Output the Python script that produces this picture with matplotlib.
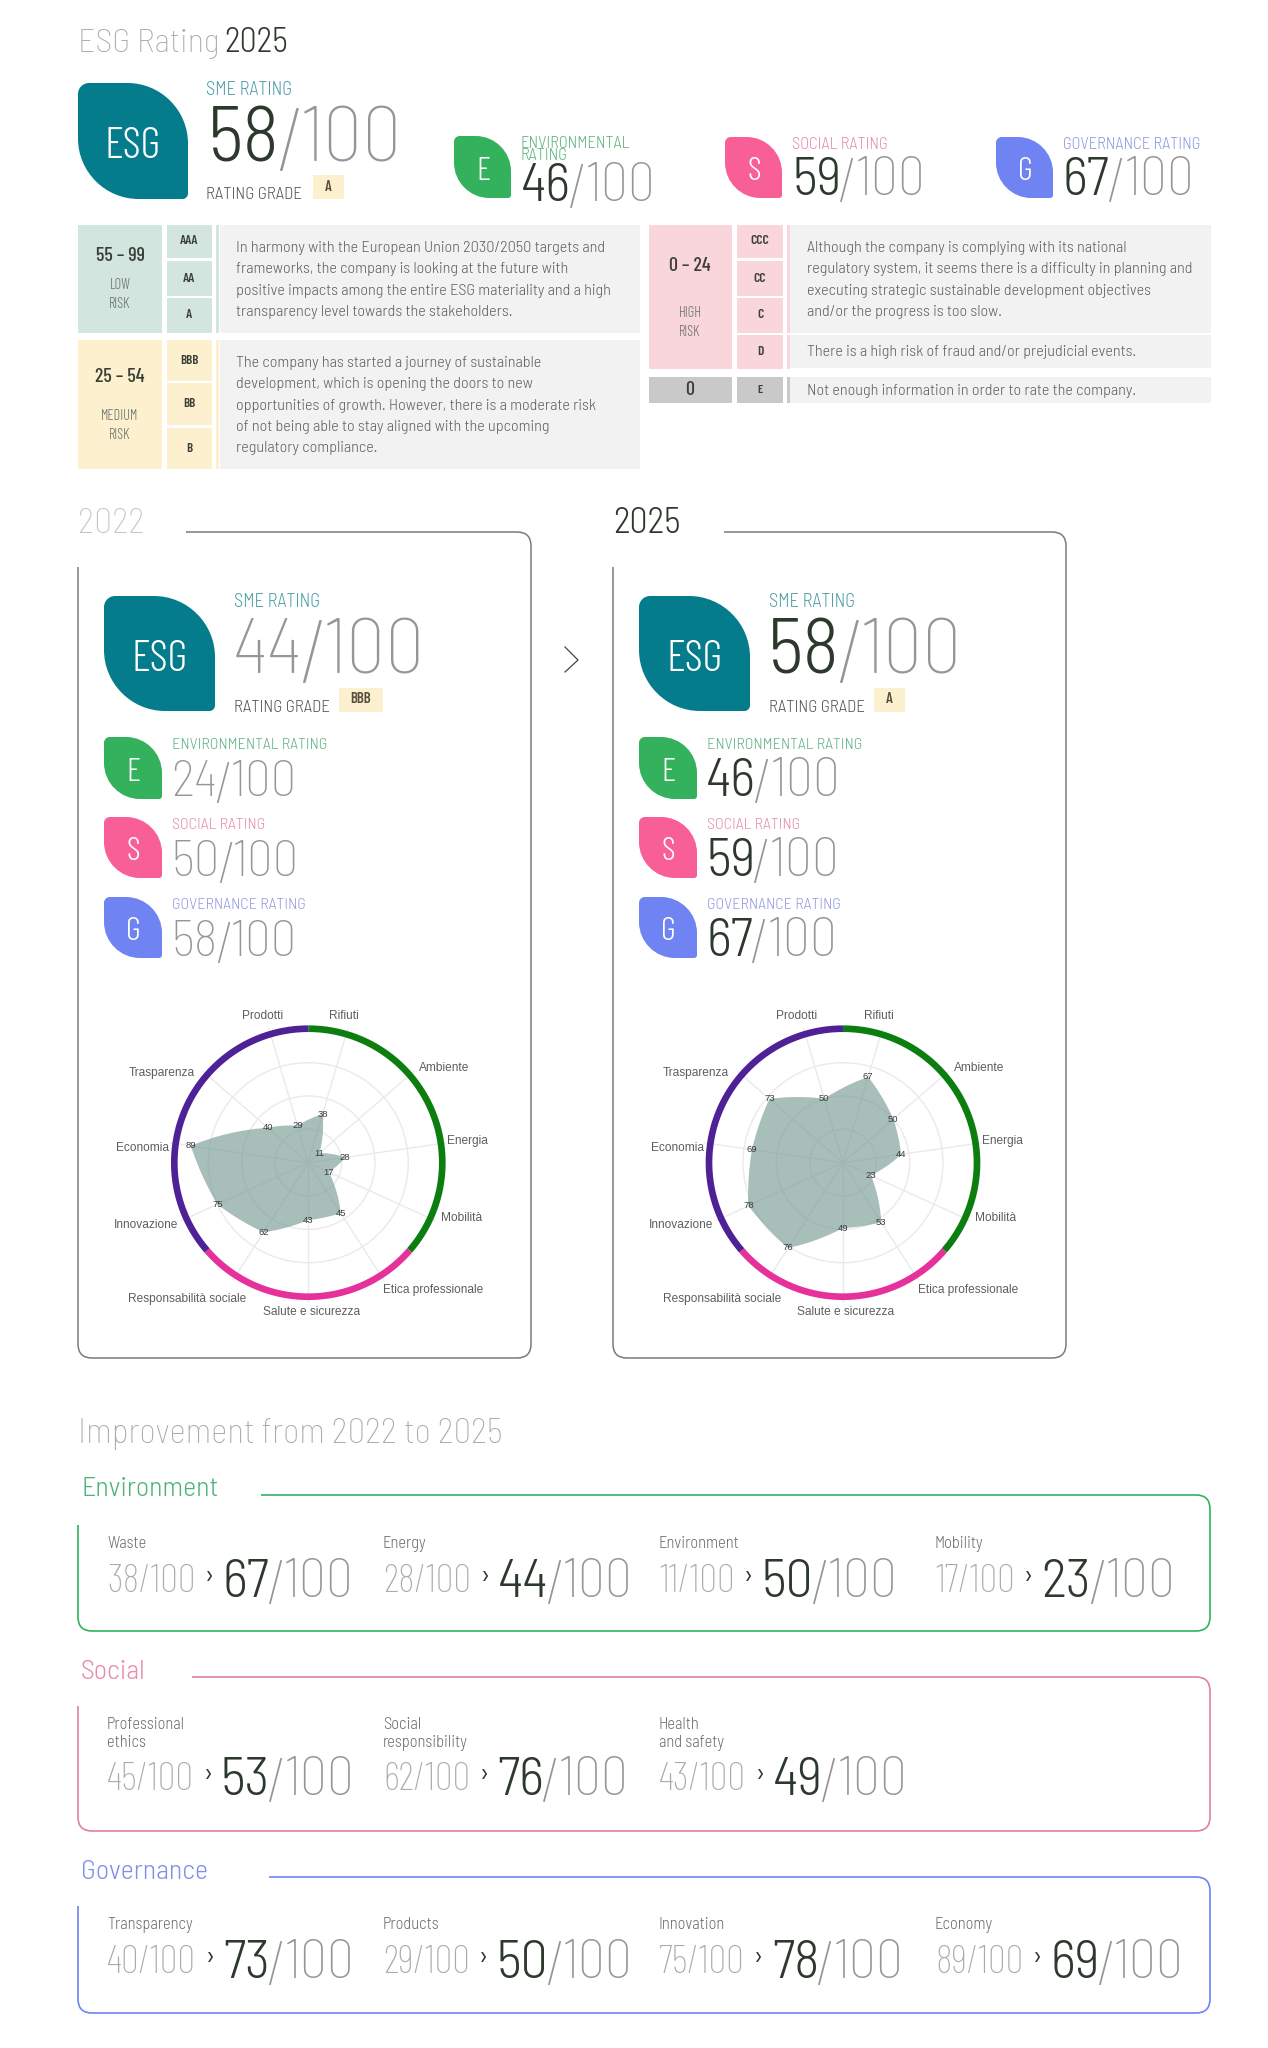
import numpy as np
import matplotlib
matplotlib.use("Agg")
import matplotlib.pyplot as plt
from matplotlib.path import Path
from matplotlib.patches import PathPatch, Rectangle

W, H = 1268, 2048

# data
AXES_IT = ["Rifiuti", "Ambiente", "Energia", "Mobilità", "Etica professionale", "Salute e sicurezza",
           "Responsabilità sociale", "Innovazione", "Economia", "Trasparenza", "Prodotti"]
RADAR_2022 = [38, 11, 28, 17, 45, 43, 62, 75, 89, 40, 29]
RADAR_2025 = [67, 50, 44, 23, 53, 49, 76, 78, 69, 73, 50]
RING_COUNTS = [4, 3, 4]
RING_COLORS = ["#0b7e0f", "#e6319b", "#4f2196"]

SCORES_2022 = [44, 24, 50, 58]
SCORES_2025 = [58, 46, 59, 67]
GRADE_2022 = "BBB"
GRADE_2025 = "A"

ENV_NAMES = ["Waste", "Energy", "Environment", "Mobility"]
ENV_BEFORE = [38, 28, 11, 17]
ENV_AFTER = [67, 44, 50, 23]
SOC_NAMES = ["Professional\nethics", "Social\nresponsibility", "Health\nand safety"]
SOC_BEFORE = [45, 62, 43]
SOC_AFTER = [53, 76, 49]
GOV_NAMES = ["Transparency", "Products", "Innovation", "Economy"]
GOV_BEFORE = [40, 29, 75, 89]
GOV_AFTER = [73, 50, 78, 69]

TEXT_LOW = ["In harmony with the European Union 2030/2050 targets and",
            "frameworks, the company is looking at the future with",
            "positive impacts among the entire ESG materiality and a high",
            "transparency level towards the stakeholders."]
TEXT_MED = ["The company has started a journey of sustainable",
            "development, which is opening the doors to new",
            "opportunities of growth. However, there is a moderate risk",
            "of not being able to stay aligned with the upcoming",
            "regulatory compliance."]
TEXT_HIGH = ["Although the company is complying with its national",
             "regulatory system, it seems there is a difficulty in planning and",
             "executing strategic sustainable development objectives",
             "and/or the progress is too slow."]
TEXT_D = "There is a high risk of fraud and/or prejudicial events."
TEXT_E = "Not enough information in order to rate the company."

# layout of the radar labels around the centre, px
LABEL_OFFSETS = [(36, -147), (136, -95), (159, -22), (153, 55), (125, 127), (3, 149),
                 (-121, 136), (-162, 62), (-166, -15), (-147, -90), (-46, -147)]

COND = ["Barlow Condensed", "Lato"]
SEMI = ["Barlow Semi Condensed", "Lato"]
ARIAL = ["Liberation Sans", "DejaVu Sans"]

TEAL, GREEN, PINK, BLUE = "#057c8b", "#34b15d", "#f95f97", "#6f84f2"
TEAL_T, GREEN_T, PINK_T, BLUE_T = "#4c9ea8", "#5fb380", "#e58db0", "#8f9be0"
DARK = "#2d392d"
THIN = "#969696"
SOFT = "#aaaaaa"
BODY = "#5c625c"

fig = plt.figure(figsize=(W / 100, H / 100), dpi=100)
ax = fig.add_axes([0, 0, 1, 1])
ax.set_xlim(0, W)
ax.set_ylim(H, 0)
ax.axis("off")
rend = fig.canvas.get_renderer()


def txt(x, y, s, px, color, weight=300, family=COND, ha="left", va="baseline", **kw):
    return ax.text(x, y, s, fontsize=px * 0.72, color=color, fontweight=weight,
                   family=family, ha=ha, va=va, **kw)


def right(t):
    return t.get_window_extent(rend).x1


def score(x, base, val, px, dark=True):
    a = txt(x, base, str(val), px, DARK if dark else THIN, 300 if dark else 100, family=SEMI)
    s = txt(right(a) - 0.05 * px, base + 0.13 * px, "/", px * 1.15, THIN, 100, family=SEMI)
    txt(right(s) - 0.05 * px, base, "100", px, THIN, 100, family=SEMI)


def leaf(x0, y0, x1, y1, color, small=0.1, big=0.55, tail=0.05):
    w = x1 - x0
    k = 0.55
    sr = small * w
    bx, by = big * w, big * w
    tr = tail * w
    v = [(x0, y0 + sr), (x0, y0 + sr * (1 - k)), (x0 + sr * (1 - k), y0), (x0 + sr, y0),
         (x1 - bx, y0), (x1 - bx * (1 - k), y0), (x1, y0 + by * (1 - k)), (x1, y0 + by),
         (x1, y1 - tr), (x1, y1 - tr * (1 - k)), (x1 - tr * (1 - k), y1), (x1 - tr, y1),
         (x0 + bx, y1), (x0 + bx * (1 - k), y1), (x0, y1 - by * (1 - k)), (x0, y1 - by),
         (x0, y0 + sr)]
    c = [Path.MOVETO, Path.CURVE4, Path.CURVE4, Path.CURVE4,
         Path.LINETO, Path.CURVE4, Path.CURVE4, Path.CURVE4,
         Path.LINETO, Path.CURVE4, Path.CURVE4, Path.CURVE4,
         Path.LINETO, Path.CURVE4, Path.CURVE4, Path.CURVE4, Path.CLOSEPOLY]
    ax.add_patch(PathPatch(Path(v, c), fc=color, ec="none"))


def frame(x_start, y_top, x_r, y_bot, x_l, y_left, color, lw=1.1, r=14):
    v = [(x_start, y_top), (x_r - r, y_top), (x_r, y_top), (x_r, y_top + r),
         (x_r, y_bot - r), (x_r, y_bot), (x_r - r, y_bot),
         (x_l + r, y_bot), (x_l, y_bot), (x_l, y_bot - r), (x_l, y_left)]
    c = [Path.MOVETO, Path.LINETO, Path.CURVE3, Path.CURVE3, Path.LINETO, Path.CURVE3, Path.CURVE3,
         Path.LINETO, Path.CURVE3, Path.CURVE3, Path.LINETO]
    ax.add_patch(PathPatch(Path(v, c), fc="none", ec=color, lw=lw))


def rect(x0, y0, x1, y1, color):
    ax.add_patch(Rectangle((x0, y0), x1 - x0, y1 - y0, fc=color, ec="none"))


# header
t = txt(78, 52, "ESG Rating", 34, SOFT, 100, family=SEMI)
txt(right(t) + 5, 52, "2025", 34, DARK, 300, family=SEMI)

leaf(78, 83, 188, 199, TEAL)
txt(133, 147, "ESG", 44, "white", 300, ha="center", va="center")
txt(206, 95, "SME RATING", 18.5, TEAL_T, 300, family=SEMI)
score(208, 161, SCORES_2025[0], 78)
txt(206, 199, "RATING GRADE", 17, "#555", 300, family=SEMI)
rect(313, 175, 344, 199, "#fdf0cf")
txt(328, 187, GRADE_2025, 15, "#54503c", 600, ha="center", va="center")

heads = [(454, 136, "E", GREEN, GREEN_T, "ENVIRONMENTAL\nRATING", 198),
         (725, 137, "S", PINK, PINK_T, "SOCIAL RATING", 198),
         (996, 137, "G", BLUE, BLUE_T, "GOVERNANCE RATING", 198)]
for i, (x, y, letter, col, tcol, lab, yb) in enumerate(heads):
    leaf(x, y, x + 57, yb, col, big=0.62)
    txt(x + 29, (y + yb) / 2 + 5, letter, 33, "white", 300, ha="center", va="center")
    if i == 0:
        txt(x + 66, 148, "ENVIRONMENTAL", 16.5, tcol, 300, family=SEMI)
        txt(x + 66, 160, "RATING", 16.5, tcol, 300, family=SEMI)
        score(x + 67, 201, SCORES_2025[1], 54)
    else:
        txt(x + 67, 149, lab, 16.5, tcol, 300, family=SEMI)
        score(x + 67, 195, SCORES_2025[i + 1], 54)

# rating table
LOW, MED, HIGH, NONE, BG = "#d2e6df", "#fdf0cf", "#f9d6dc", "#c9c9c9", "#f2f2f2"
rect(78, 225, 162, 333, LOW)
rect(78, 340, 162, 469, MED)
rect(649, 225, 732, 369, HIGH)
rect(649, 377, 732, 403, NONE)
for y0, y1, g in [(225, 258, "AAA"), (261, 296, "AA"), (298, 333, "A")]:
    rect(167, y0, 212, y1, LOW)
    txt(189, (y0 + y1) / 2, g, 13.5, "#3a3f38", 600, ha="center", va="center")
rect(216, 225, 219, 333, LOW)
for y0, y1, g in [(340, 381, "BBB"), (383, 425, "BB"), (428, 469, "B")]:
    rect(167, y0, 212, y1, MED)
    txt(189, (y0 + y1) / 2, g, 13, "#3a3f38", 600, ha="center", va="center")
rect(216, 340, 219, 469, MED)
for y0, y1, g in [(225, 258, "CCC"), (261, 296, "CC"), (298, 333, "C"), (335, 369, "D")]:
    rect(737, y0, 783, y1, HIGH)
    txt(760, (y0 + y1) / 2, g, 13.5, "#3a3f38", 600, ha="center", va="center")
rect(787, 225, 790, 333, HIGH)
rect(787, 335, 790, 369, HIGH)
rect(737, 377, 783, 403, NONE)
txt(760, 390, "E", 12, "#3a3f38", 600, ha="center", va="center")
rect(787, 377, 790, 403, NONE)
rect(220, 225, 640, 333, BG)
rect(220, 340, 640, 469, BG)
rect(790, 225, 1211, 333, BG)
rect(790, 335, 1211, 368, BG)
rect(790, 377, 1211, 403, BG)

for x, y, big, a, ya, b, yb in [(120, 256, "55 – 99", "LOW", 285, "RISK", 304),
                                (120, 377, "25 – 54", "MEDIUM", 416, "RISK", 435),
                                (690, 266, "0 – 24", "HIGH", 313, "RISK", 332)]:
    txt(x, y, big, 20, "#3a3f38", 500, ha="center", va="center")
    txt(x, ya, a, 14.5, "#6a6f6a", 300, ha="center", va="center")
    txt(x, yb, b, 14.5, "#6a6f6a", 300, ha="center", va="center")
txt(690, 390, "0", 20, "#3a3f38", 500, ha="center", va="center")

BODY_PX = 16.2
for y, s in zip([248, 269, 291, 312], TEXT_LOW):
    txt(236, y, s, BODY_PX, BODY, 300, family=SEMI, va="center")
for y, s in zip([363, 384, 406, 427, 448], TEXT_MED):
    txt(236, y, s, BODY_PX, BODY, 300, family=SEMI, va="center")
for y, s in zip([248, 269, 291, 312], TEXT_HIGH):
    txt(807, y, s, BODY_PX, BODY, 300, family=SEMI, va="center")
txt(807, 352, TEXT_D, BODY_PX, BODY, 300, family=SEMI, va="center")
txt(807, 391, TEXT_E, BODY_PX, BODY, 300, family=SEMI, va="center")


def outline(theta, vals, bulge=0.35, steps=30):
    # edges between chord and spiral, sharp at the data points
    th = np.r_[theta, theta[0] + 2 * np.pi]
    rr = np.r_[vals, vals[0]].astype(float)
    pts = []
    for i in range(len(theta)):
        t = np.linspace(0, 1, steps, endpoint=False)
        th_i = th[i] + t * (th[i + 1] - th[i])
        r_i = rr[i] + t * (rr[i + 1] - rr[i])
        sx, sy = r_i * np.sin(th_i), r_i * np.cos(th_i)
        ax0, ay0 = rr[i] * np.sin(th[i]), rr[i] * np.cos(th[i])
        ax1, ay1 = rr[i + 1] * np.sin(th[i + 1]), rr[i + 1] * np.cos(th[i + 1])
        cx, cy = ax0 + t * (ax1 - ax0), ay0 + t * (ay1 - ay0)
        x = bulge * sx + (1 - bulge) * cx
        y = bulge * sy + (1 - bulge) * cy
        pts.append(np.column_stack([np.arctan2(x, y), np.hypot(x, y)]))
    return np.vstack(pts)


def radar(cx, cy, vals):
    scale = 4 / 3
    rmax = 105
    R = rmax * scale
    p = fig.add_axes([(cx - R) / W, 1 - (cy + R) / H, 2 * R / W, 2 * R / H], projection="polar")
    p.set_facecolor("none")
    p.set_theta_zero_location("N")
    p.set_theta_direction(-1)
    step = 2 * np.pi / len(vals)
    theta = (np.arange(len(vals)) + 0.5) * step
    p.set_xticks(theta)
    p.set_xticklabels([])
    p.set_yticks([25, 50, 75, 100])
    p.set_yticklabels([])
    p.set_ylim(0, rmax)
    p.grid(color="#eaeaea", lw=1)
    p.spines["polar"].set_visible(False)
    p.fill(*outline(theta, vals).T, fc="#7e9f99", ec="none", alpha=0.68, zorder=3)
    start = 0
    for n, col in zip(RING_COUNTS, RING_COLORS):
        th = np.linspace(start * step, (start + n) * step, 80)
        p.plot(th, np.full_like(th, 100.5), color=col, lw=4.8, solid_capstyle="butt", zorder=4)
        start += n
    for a, v in zip(theta, vals):
        p.text(a, v, str(v), fontsize=6.8, family=ARIAL, color="#3d3d3d", ha="center", va="center", zorder=5)
    for s, (dx, dy) in zip(AXES_IT, LABEL_OFFSETS):
        ax.text(cx + dx, cy + dy, s, fontsize=8.6, family=ARIAL, color="#5e5e5e", ha="center", va="center")


def panel(dx, year, scores, grade, dark, year_x_line):
    txt(78 + dx, 533, year, 36, DARK if dark else "#c4c4c4", 300 if dark else 100, family=SEMI)
    frame(year_x_line + dx, 532, 531 + dx, 1358, 78 + dx, 567, "#7a7a7a")
    leaf(104 + dx, 596, 215 + dx, 711, TEAL)
    txt(160 + dx, 660, "ESG", 44, "white", 300, ha="center", va="center")
    txt(234 + dx, 607, "SME RATING", 18.5, TEAL_T, 300, family=SEMI)
    score(233 + dx, 673, scores[0], 78, dark)
    txt(234 + dx, 712, "RATING GRADE", 17, "#555", 300, family=SEMI)
    bx = 339 + dx
    bw = 44 if len(grade) > 1 else 31
    rect(bx, 688, bx + bw, 712, "#fdf0cf")
    txt(bx + bw / 2, 699, grade, 15, "#54503c", 600, ha="center", va="center")
    rows = [(737, 799, "E", GREEN, GREEN_T, "ENVIRONMENTAL RATING", 749, 796),
            (817, 878, "S", PINK, PINK_T, "SOCIAL RATING", 829, 876),
            (897, 958, "G", BLUE, BLUE_T, "GOVERNANCE RATING", 909, 956)]
    for i, (y0, y1, letter, col, tcol, lab, ylab, ynum) in enumerate(rows):
        leaf(104 + dx, y0, 162 + dx, y1, col, big=0.62)
        txt(133 + dx, (y0 + y1) / 2 + 5, letter, 33, "white", 300, ha="center", va="center")
        txt(172 + dx, ylab, lab, 16, tcol, 300, family=SEMI)
        score(171 + dx, ynum, scores[i + 1], 54 if dark else 51, dark)


panel(0, "2022", SCORES_2022, GRADE_2022, False, 186)
panel(535, "2025", SCORES_2025, GRADE_2025, True, 189)
ax.plot([565, 578, 565], [647, 660, 672], color="#444", lw=0.9)
radar(308.3, 1162.7, RADAR_2022)
radar(843, 1162.7, RADAR_2025)

# improvement section
t = txt(78, 1443, "Improvement from 2022 to 2025", 35, SOFT, 100, family=SEMI)
COLS = [107, 383, 659, 935]


def section(title, col, tcol, y_title, x_line, y_top, y_bot, y_left, names, before, after, y_name, y_small, y_big):
    txt(81, y_title, title, 28, tcol, 300, family=SEMI)
    frame(x_line, y_top, 1210, y_bot, 78, y_left, col, lw=1.2)
    for x, n, b, a in zip(COLS, names, before, after):
        lines = n.split("\n")
        for k, ln in enumerate(lines):
            txt(x, y_name + k * 18, ln, 16.5, "#6a6f6a", 300, family=SEMI, va="center")
        s = txt(x, y_small, f"{b}/100", 40, SOFT, 100)
        e = right(s)
        txt(e + 14, y_big - 20, "›", 28, DARK, 400, ha="center", va="center")
        score(e + 27, y_big, a, 54)


section("Environment", GREEN, "#4fb377", 1496, 261, 1495, 1631, 1525,
        ENV_NAMES, ENV_BEFORE, ENV_AFTER, 1544, 1592, 1597)
section("Social", "#e27fa5", "#e88aae", 1679, 192, 1677, 1831, 1706,
        SOC_NAMES, SOC_BEFORE, SOC_AFTER, 1725, 1790, 1795)
section("Governance", BLUE, "#7d90e6", 1879, 269, 1877, 2013, 1906,
        GOV_NAMES, GOV_BEFORE, GOV_AFTER, 1925, 1973, 1978)

fig.savefig("out.png", dpi=100)
